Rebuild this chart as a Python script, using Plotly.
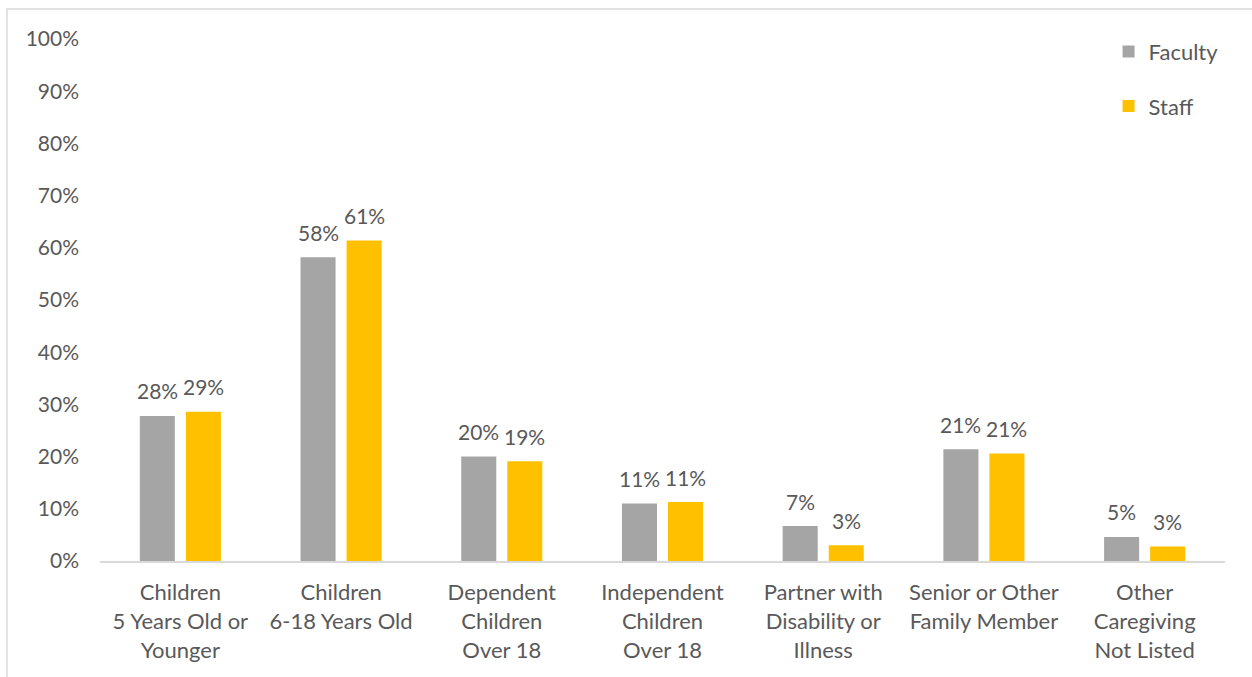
import plotly.graph_objects as go

categories = [
    "Children<br>5 Years Old or<br>Younger",
    "Children<br>6-18 Years Old",
    "Dependent<br>Children<br>Over 18",
    "Independent<br>Children<br>Over 18",
    "Partner with<br>Disability or<br>Illness",
    "Senior or Other<br>Family Member",
    "Other<br>Caregiving<br>Not Listed",
]
faculty = [0.278, 0.582, 0.200, 0.110, 0.067, 0.214, 0.046]
staff = [0.286, 0.614, 0.191, 0.113, 0.030, 0.206, 0.028]
y_ticks = [i / 10 for i in range(11)]

FONT = "Lato"
TEXT = "#595959"
FACULTY_COLOR = "#a5a5a5"
STAFF_COLOR = "#ffc000"

fig = go.Figure()
fig.add_trace(go.Bar(name="Faculty", x=categories, y=faculty,
                     marker=dict(color=FACULTY_COLOR, line=dict(width=0)),
                     legendgroup="f"))
fig.add_trace(go.Bar(name="Staff", x=categories, y=staff,
                     marker=dict(color=STAFF_COLOR, line=dict(width=0)),
                     legendgroup="s"))

# value labels above each bar, offset to the bar's slot in its group
annotations = []
for series, shift in ((faculty, -23), (staff, 23)):
    for cat, v in zip(categories, series):
        annotations.append(dict(
            x=cat, y=v, xref="x", yref="y", text=f"{v:.0%}",
            showarrow=False, xshift=shift, yshift=25, yanchor="middle",
            font=dict(family=FONT, size=21, color=TEXT)))

fig.update_layout(
    width=1252, height=677,
    margin=dict(l=100, r=27, t=39, b=116),
    paper_bgcolor="white", plot_bgcolor="white",
    barmode="group", bargap=0.427, bargroupgap=0.239,
    font=dict(family=FONT, size=21, color=TEXT),
    showlegend=True,
    legend=dict(x=0.8965, y=1.016, xanchor="left", yanchor="top",
                bgcolor="rgba(0,0,0,0)", tracegroupgap=23,
                font=dict(family=FONT, size=22, color=TEXT)),
    annotations=annotations,
    shapes=[dict(type="rect", xref="paper", yref="paper",
                 x0=-0.0827, x1=1.2, y0=-0.4, y1=1.0575,
                 line=dict(color="#d9d9d9", width=1.5), layer="below")],
)
fig.update_yaxes(range=[0, 1], tickvals=y_ticks, tickformat=".0%",
                 showgrid=False, zeroline=False, showline=False,
                 ticks="", ticklabelstandoff=20,
                 tickfont=dict(family=FONT, size=21, color=TEXT))
fig.update_xaxes(showline=True, linecolor="#d9d9d9", linewidth=2,
                 ticks="", showgrid=False, ticklabelstandoff=11,
                 tickfont=dict(family=FONT, size=22, color=TEXT))

fig.write_html("out.html")
